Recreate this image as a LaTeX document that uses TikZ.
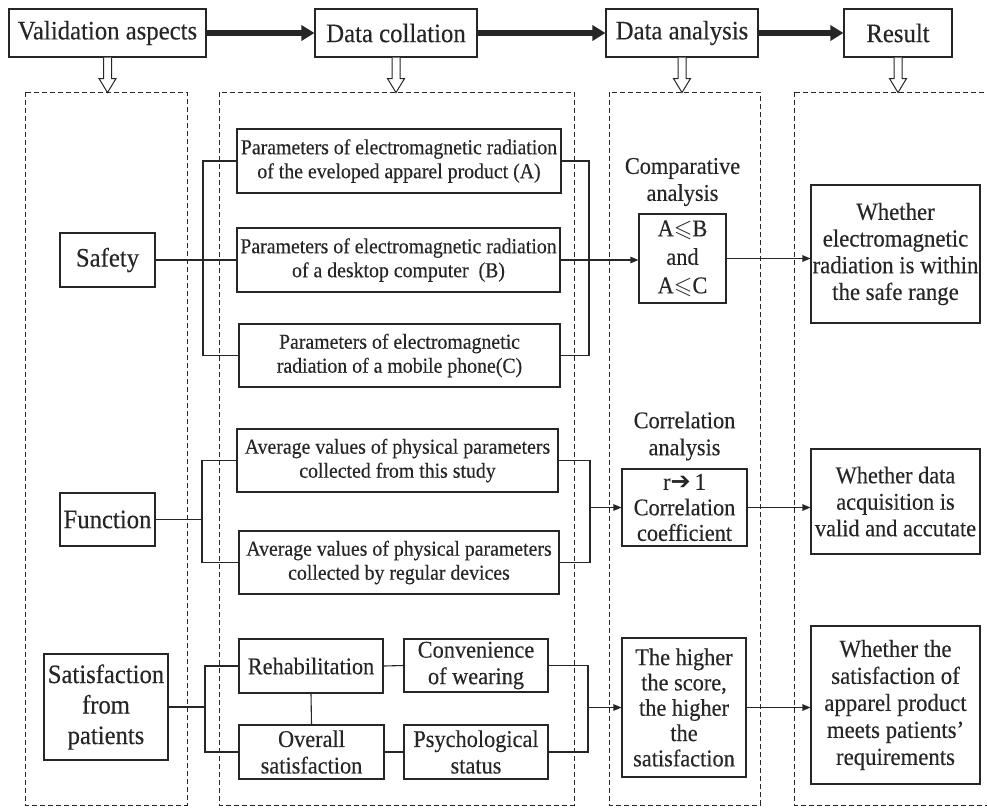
\documentclass[tikz,border=0pt]{standalone}
\usepackage{fontspec}
\usepackage{amssymb}
\setmainfont{Liberation Serif}[FakeStretch=0.93,FakeBold=0.3]
\newfontfamily\dejavu{DejaVu Sans}
\usetikzlibrary{arrows.meta}
\definecolor{ink}{gray}{0.15}
\tikzset{
  box/.style={draw=ink, line width=1.1pt, inner sep=0pt, align=center, text=ink},
  big/.style={font=\fontsize{26.6}{29}\selectfont},
  mid/.style={font=\fontsize{24}{26.5}\selectfont},
  small/.style={font=\fontsize{21.3}{24}\selectfont},
  lbl/.style={inner sep=0pt, align=center, text=ink, font=\fontsize{24}{27}\selectfont},
  conn/.style={draw=ink, line width=1.1pt},
  arr/.style={conn, -{Triangle[length=8pt,width=6.5pt]}},
  thickarr/.style={draw=ink, line width=6.5pt, -{Triangle[length=13pt,width=15pt]}},
  hollow/.style={draw=ink, line width=1pt, fill=white},
  col/.style={draw=ink, line width=0.9pt, dash pattern=on 5pt off 3pt},
}
\newcommand\hollowdown[1]{%
  \draw[hollow] ([xshift=-4pt]#1.south) -- ++(0,21) -- ++(-4.5,0) -- ++(8.5,14)
     -- ++(8.5,-14) -- ++(-4.5,0) -- ++(0,-21);}
\begin{document}
\begin{tikzpicture}[x=1pt,y=-1pt]
\useasboundingbox (0,0) rectangle (987,807);
% dashed columns
\draw[col] (25,92) rectangle (187,805);
\draw[col] (219,92) rectangle (574,805);
\draw[col] (609,92) rectangle (760,805);
\draw[col] (794,92) rectangle (1000,805);
% top row
\node[box,big,minimum width=197pt,minimum height=48pt] (va) at (107.5,33) {Validation aspects};
\node[box,big,minimum width=162pt,minimum height=48pt] (dc) at (396,33) {Data collation};
\node[box,big,minimum width=152pt,minimum height=48pt] (da) at (682,33) {Data analysis};
\node[box,big,minimum width=108pt,minimum height=48pt] (rs) at (898,33) {Result};
\draw[thickarr] (va.east) -- (dc.west);
\draw[thickarr] (dc.east) -- (da.west);
\draw[thickarr] (da.east) -- (rs.west);
\hollowdown{va}
\hollowdown{dc}
\hollowdown{da}
\hollowdown{rs}
% column 1
\node[box,big,minimum width=95pt,minimum height=54pt] (saf) at (107.5,260) {Safety};
\node[box,big,minimum width=95pt,minimum height=53pt] (fun) at (107.5,519.5) {Function};
\node[box,font=\fontsize{26.5}{30.5}\selectfont,minimum width=124pt,minimum height=106pt] (sat) at (106,707) {Satisfaction\\from\\patients};
% column 2
\node[box,small,minimum width=324pt,minimum height=64pt] (pa) at (399,161) {Parameters of electromagnetic radiation\\of the eveloped apparel product (A)};
\node[box,small,minimum width=323pt,minimum height=64pt] (pb) at (398.5,260) {Parameters of electromagnetic radiation\\of a desktop computer\ \ (B)};
\node[box,small,minimum width=321pt,minimum height=63pt] (pc) at (399.5,355.5) {Parameters of electromagnetic\\radiation of a mobile phone(C)};
\node[box,small,minimum width=321pt,minimum height=63pt] (av1) at (397.5,460.5) {Average values of physical parameters\\collected from this study};
\node[box,small,minimum width=320pt,minimum height=63pt] (av2) at (399,562.5) {Average values of physical parameters\\collected by regular devices};
\node[box,mid,minimum width=144pt,minimum height=54pt] (reh) at (311,666) {Rehabilitation};
\node[box,mid,minimum width=145pt,minimum height=54pt] (ovr) at (311.5,752) {Overall\\satisfaction};
\node[box,mid,minimum width=144pt,minimum height=53pt] (cnv) at (476,665.5) {Convenience\\of wearing};
\node[box,mid,minimum width=144pt,minimum height=54pt] (psy) at (476,752) {Psychological\\status};
% column 3
\node[lbl] (cmpl) at (682.5,182) {Comparative\\analysis};
\node[box,font=\fontsize{24}{28.5}\selectfont,minimum width=87pt,minimum height=89pt] (cmp) at (682.5,258.5) {A$\leqslant$B\\and\\A$\leqslant$C};
\node[lbl] (corl) at (684.5,436) {Correlation\\analysis};
\node[box,font=\fontsize{24}{25.5}\selectfont,minimum width=125pt,minimum height=77pt] (cor) at (684.5,507.5) {r{\dejavu\fontsize{24}{25}\selectfont ➔}\,1\\Correlation\\coefficient};
\node[box,font=\fontsize{24}{25.3}\selectfont,minimum width=124pt,minimum height=139pt] (scr) at (684,707.5) {The higher\\the score,\\the higher\\the\\satisfaction};
% column 4
\node[box,font=\fontsize{24.5}{26.7}\selectfont,minimum width=169pt,minimum height=138pt] (r1) at (895.5,254) {Whether\\electromagnetic\\radiation is within\\the safe range};
\node[box,font=\fontsize{24}{26.5}\selectfont,minimum width=169pt,minimum height=105pt] (r2) at (895.5,501.5) {Whether data\\acquisition is\\valid and accutate};
\node[box,font=\fontsize{24.5}{27}\selectfont,minimum width=169pt,minimum height=158pt] (r3) at (895.5,705) {Whether the\\satisfaction of\\apparel product\\meets patients'\\requirements};
% safety connectors
\coordinate (sl) at (203,0);
\coordinate (sr) at (589,0);
\draw[conn] (saf.east) -- (pb.west);
\draw[conn] (pa.west) -- (pa.west -| sl) -- (pc.west -| sl) -- (pc.west);
\draw[conn] (pa.east) -- (pa.east -| sr) -- (pc.east -| sr) -- (pc.east);
\draw[arr] (pb.east) -- (pb.east -| cmp.west);
\draw[arr] (cmp.east) -- (cmp.east -| r1.west);
% function connectors
\coordinate (fl) at (202,0);
\coordinate (fr) at (590,0);
\draw[conn] (fun.east) -- (fun.east -| fl);
\draw[conn] (av1.west) -- (av1.west -| fl) -- (av2.west -| fl) -- (av2.west);
\draw[conn] (av1.east) -- (av1.east -| fr) -- (av2.east -| fr) -- (av2.east);
\draw[arr] (cor.west -| fr) -- (cor.west);
\draw[arr] (cor.east) -- (cor.east -| r2.west);
% satisfaction connectors
\coordinate (tl) at (205,0);
\coordinate (tr) at (588,0);
\draw[conn] (sat.east) -- (sat.east -| tl);
\draw[conn] (reh.west) -- (reh.west -| tl) -- (ovr.west -| tl) -- (ovr.west);
\draw[conn] (reh.east) -- (cnv.west);
\draw[conn] (ovr.east) -- (psy.west);
\draw[conn] (reh.south) -- (ovr.north);
\draw[conn] (cnv.east) -- (cnv.east -| tr) -- (psy.east -| tr) -- (psy.east);
\draw[arr] (scr.west -| tr) -- (scr.west);
\draw[arr] (scr.east) -- (scr.east -| r3.west);
\end{tikzpicture}
\end{document}
